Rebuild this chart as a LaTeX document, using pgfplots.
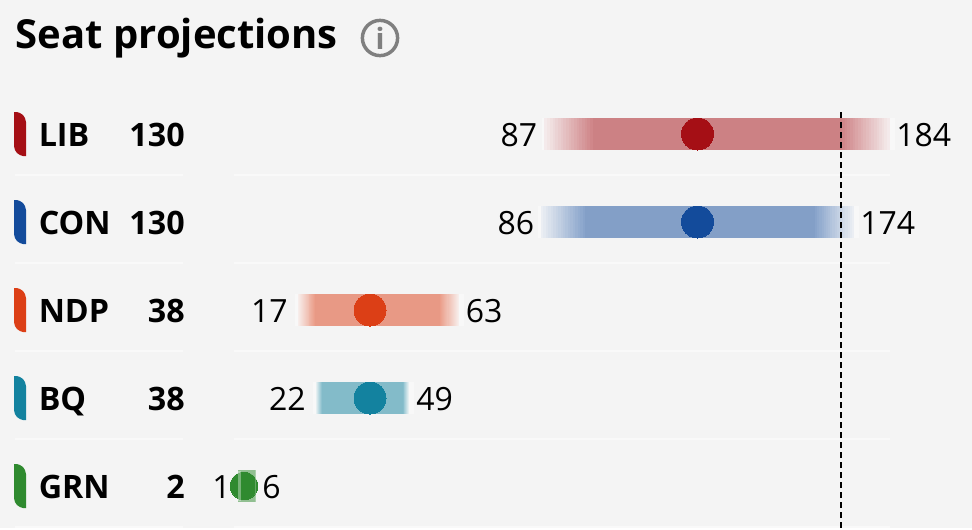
\documentclass[border=0pt]{standalone}
\usepackage{pgfplots}
\pgfplotsset{compat=1.18}
\usepackage{fontspec}
\setmainfont{Open Sans}
\definecolor{bgc}{HTML}{F4F4F4}
\definecolor{sepc}{HTML}{F9F9F9}
\definecolor{lib}{HTML}{A50F15}
\definecolor{con}{HTML}{134B9B}
\definecolor{ndp}{HTML}{DC3F16}
\definecolor{bq}{HTML}{13829F}
\definecolor{grn}{HTML}{2F8A2F}
\definecolor{icon}{HTML}{7F7F7F}
\pgfplotsset{
 base/.style={scale only axis,width=729pt,height=396pt,hide axis,clip=false,y dir=reverse,ymin=0,ymax=528,at={(0,0)},anchor=south west},
}
\tikzset{
 val/.style={font=\fontsize{24}{24}\selectfont,text=black,inner sep=0pt},
 lab/.style={font=\fontsize{24.2}{24.2}\selectfont\bfseries,text=black,inner sep=0pt},
}
\newcommand\yy[2]{\the\numexpr#1+#2\relax}
% colour, y top, y bottom, outer x, inner x: steps painted from the outside in
\newcommand\fade[5]{%
 \pgfplotsinvokeforeach{0,...,17}{%
  \pgfmathsetmacro\xs{#4+(#5-#4)*##1/18}%
  \pgfmathsetmacro\pc{5+45*(##1+0.5)/18}%
  \edef\tmp{\noexpand\addplot[draw=none,fill=#1!\pc!sepc,forget plot] coordinates {(\xs,#2)(#5,#2)(#5,#3)(\xs,#3)} --cycle;}\tmp
 }%
}
% color, y centre, low, fade-in end, fade-out start, high, mean
\newcommand\seatbar[7]{%
 \addplot[draw=none,fill=white!35!bgc,forget plot] coordinates {(#3-0.8,\yy{#2}{-16})(#6+1.4,\yy{#2}{-16})(#6+1.4,\yy{#2}{16})(#3-0.8,\yy{#2}{16})} --cycle;
 \fade{#1}{\yy{#2}{-16}}{\yy{#2}{16}}{#3}{#4}
 \fade{#1}{\yy{#2}{-16}}{\yy{#2}{16}}{#6}{#5}
 \addplot[draw=none,fill=#1!50!bgc,forget plot] coordinates {(#4,\yy{#2}{-16})(#5,\yy{#2}{-16})(#5,\yy{#2}{16})(#4,\yy{#2}{16})} --cycle;
 \addplot[only marks,mark=*,mark size=12pt,mark options={fill=#1,draw=#1,line width=0pt},forget plot] coordinates {(#7,#2)};
}
\newcommand\pill[2]{%
 \addplot[draw=none,fill=#1,forget plot] coordinates {(14,\yy{#2}{-22})(17,\yy{#2}{-22})(20,\yy{#2}{-21})(23,\yy{#2}{-19})(25,\yy{#2}{-16})(26,\yy{#2}{-12})(26,\yy{#2}{22})(23,\yy{#2}{22})(20,\yy{#2}{21})(17,\yy{#2}{19})(15,\yy{#2}{16})(14,\yy{#2}{12})} --cycle;
}
\newcommand\sep[1]{%
 \addplot[sepc,line width=1.2pt,forget plot] coordinates {(15,#1)(183,#1)};
 \addplot[sepc,line width=1.2pt,forget plot] coordinates {(234,#1)(890,#1)};
}
\begin{document}
\begin{tikzpicture}
\begin{axis}[base,xmin=0,xmax=972]
 \addplot[draw=none,fill=bgc,forget plot] coordinates {(0,0)(972,0)(972,528)(0,528)} --cycle;
 \sep{175}\sep{263}\sep{351}\sep{439}\sep{527}
 \pill{lib}{134}\pill{con}{222}\pill{ndp}{310}\pill{bq}{398}\pill{grn}{486}
 \node[anchor=base west,inner sep=0pt,font=\fontsize{30}{30}\selectfont\bfseries] at (axis cs:15.5,48) {Seat projections};
 \addplot[only marks,mark=*,mark size=13.2pt,mark options={fill=bgc,draw=icon,line width=2.6pt},forget plot] coordinates {(380,38)};
 \node[lab,anchor=base west] at (axis cs:38.5,146.5) {LIB};
 \node[lab,anchor=base east] at (axis cs:185,146.5) {130};
 \node[lab,anchor=base west] at (axis cs:38.5,234.5) {CON};
 \node[lab,anchor=base east] at (axis cs:185,234.5) {130};
 \node[lab,anchor=base west] at (axis cs:38.5,322.5) {NDP};
 \node[lab,anchor=base east] at (axis cs:185,322.5) {38};
 \node[lab,anchor=base west] at (axis cs:38.5,410.5) {BQ};
 \node[lab,anchor=base east] at (axis cs:185,410.5) {38};
 \node[lab,anchor=base west] at (axis cs:38.5,498.5) {GRN};
 \node[lab,anchor=base east] at (axis cs:185,498.5) {2};
\end{axis}
\begin{axis}[base,xmin=-65.93,xmax=207.1]
 \seatbar{lib}{134}{87}{100.6}{170.6}{184}{130}
 \seatbar{con}{222}{86}{98.4}{163}{174}{130}
 \seatbar{ndp}{310}{17.8}{22.6}{57.7}{63}{38}
 \seatbar{bq}{398}{22.8}{24.5}{47.3}{49}{38}
 \addplot[draw=none,fill=grn!50!bgc,forget plot] coordinates {(0.9,470)(6,470)(6,502)(0.9,502)} --cycle;
 \addplot[only marks,mark=*,mark size=10.4pt,mark options={fill=grn,draw=grn,line width=0pt},forget plot] coordinates {(2.6,486)};
 \addplot[black,line width=1.5pt,dash pattern=on 4.5pt off 3pt,forget plot] coordinates {(170.3,112)(170.3,528)};
\end{axis}
\begin{axis}[base,xmin=0,xmax=972]
 \addplot[draw=none,fill=white,fill opacity=0.35,forget plot] coordinates {(238,471)(240.5,471)(240.5,501)(238,501)} --cycle;
 \addplot[draw=none,fill=white,fill opacity=0.25,forget plot] coordinates {(254.5,470)(256,470)(256,502)(254.5,502)} --cycle;
 \node[font=\fontsize{22}{22}\selectfont\bfseries,text=icon,inner sep=0pt] at (axis cs:380,38) {i};
 \node[val,anchor=base east] at (axis cs:537.5,146.3) {87};
 \node[val,anchor=base west] at (axis cs:896,146.3) {184};
 \node[val,anchor=base east] at (axis cs:534.5,234.3) {86};
 \node[val,anchor=base west] at (axis cs:860,234.3) {174};
 \node[val,anchor=base east] at (axis cs:288,322.3) {17};
 \node[val,anchor=base west] at (axis cs:465.5,322.3) {63};
 \node[val,anchor=base east] at (axis cs:306,410.3) {22};
 \node[val,anchor=base west] at (axis cs:416,410.3) {49};
 \node[val,anchor=base east] at (axis cs:231,498.3) {1};
 \node[val,anchor=base west] at (axis cs:262,498.3) {6};
\end{axis}
\end{tikzpicture}
\end{document}
